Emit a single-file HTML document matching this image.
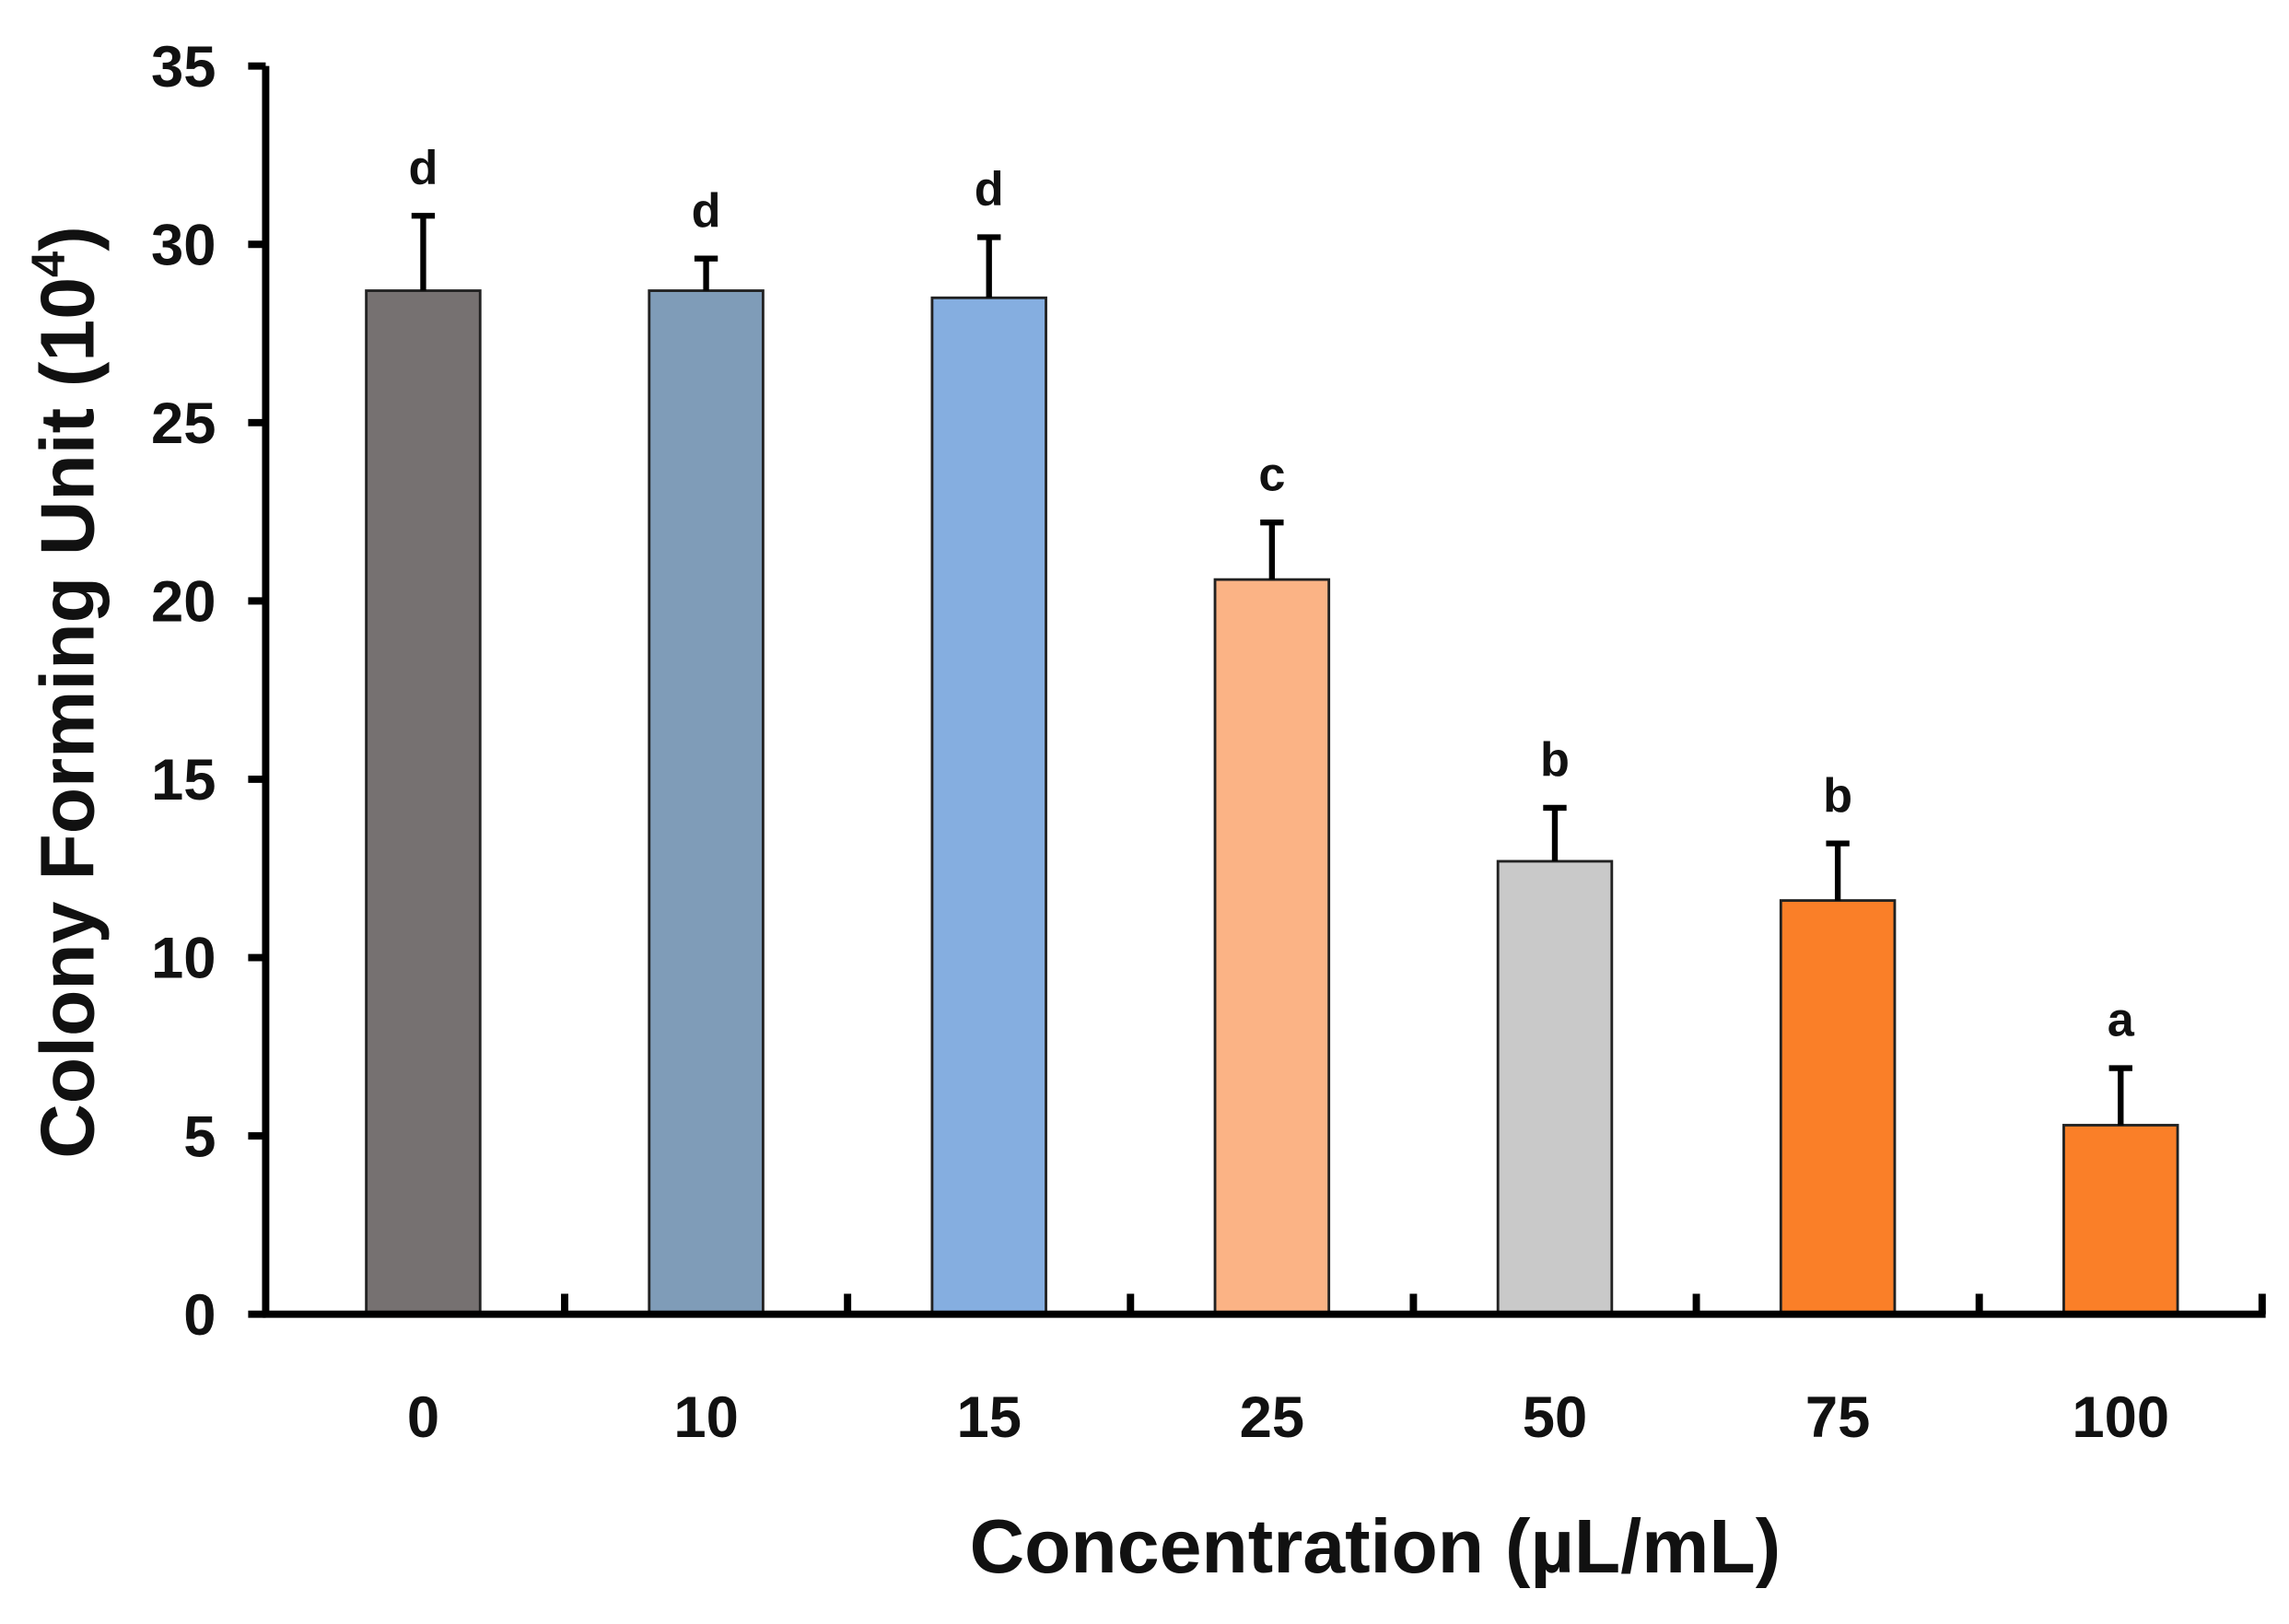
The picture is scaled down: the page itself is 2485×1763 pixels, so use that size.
<!DOCTYPE html>
<html><head><meta charset="utf-8"><style>
html,body{margin:0;padding:0;background:#fff;}
svg{display:block;}
text{font-family:"Liberation Sans",sans-serif;font-weight:bold;fill:#111;}
</style></head><body>
<svg id="chart" width="2485" height="1763" viewBox="0 0 1568 1112" xmlns="http://www.w3.org/2000/svg"></svg>
<script>
const categories = ["0","10","15","25","50","75","100"];
const values = [28.7, 28.7, 28.5, 20.6, 12.7, 11.6, 5.3];
const errors = [2.1, 0.9, 1.7, 1.6, 1.5, 1.6, 1.6];
const letters = ["d","d","d","c","b","b","a"];
const colors = ["#767171","#7f9cb8","#85aee0","#fbb385","#c9c9c9","#fa7f28","#fa7f28"];
const yTicks = [0,5,10,15,20,25,30,35];

const NS = "http://www.w3.org/2000/svg";
const svg = document.getElementById('chart');
const X0 = 182, X1 = 1552, XB = 193, Y0 = 900, Ytop = 45, YMAX = 35;
const band = 193.8;
const barW = 78;
function y(v){ return Y0 - v / YMAX * (Y0 - Ytop); }
function xc(i){ return XB + band * (i + 0.5); }
function mk(tag, attrs){ const e = document.createElementNS(NS, tag); for (const k in attrs) e.setAttribute(k, attrs[k]); svg.appendChild(e); return e; }

categories.forEach((c, i) => {
  const r = mk('rect', {x: xc(i) - barW/2, y: y(values[i]), width: barW, height: Y0 - y(values[i]), fill: colors[i], stroke: '#222', 'stroke-width': 1.8});
  
  
  const top = y(values[i] + errors[i]);
  const eb = mk('path', {d: `M${xc(i)},${y(values[i])}V${top}M${xc(i)-8},${top}H${xc(i)+8}`, stroke: '#000', 'stroke-width': 4, fill: 'none'});
  
  
  const t = mk('text', {x: xc(i), y: top - 22, 'text-anchor': 'middle', 'font-size': 33});
  t.textContent = letters[i];
  
  
  const tl = mk('text', {x: xc(i), y: 984, 'text-anchor': 'middle', 'font-size': 40});
  tl.textContent = c;
  
  
});

const ya = mk('line', {x1: X0, y1: Ytop, x2: X0, y2: Y0 + 2, stroke: '#000', 'stroke-width': 5});


const xa = mk('line', {x1: X0 - 2, y1: Y0, x2: X1, y2: Y0, stroke: '#000', 'stroke-width': 5});


for (let i = 1; i <= categories.length; i++) {
  const tk = mk('line', {x1: XB + band*i, y1: Y0, x2: XB + band*i, y2: Y0 - 14, stroke: '#000', 'stroke-width': 5});
  
  
}
yTicks.forEach(v => {
  const tk = mk('line', {x1: X0 - 12, y1: y(v), x2: X0, y2: y(v), stroke: '#000', 'stroke-width': 5});
  
  
  const t = mk('text', {x: 148, y: y(v) + 14, 'text-anchor': 'end', 'font-size': 40});
  t.textContent = v;
  
  
});

const xt = mk('text', {x: 942, y: 1077, 'text-anchor': 'middle', 'font-size': 52});
xt.textContent = 'Concentration (µL/mL)';


const ytt = mk('text', {x: 0, y: 0, 'text-anchor': 'middle', 'font-size': 52, transform: 'translate(64,474) rotate(-90)'});
ytt.innerHTML = 'Colony Forming Unit (10<tspan dy="-20" font-size="32">4</tspan><tspan dy="20">)</tspan>';


</script>
</body></html>
